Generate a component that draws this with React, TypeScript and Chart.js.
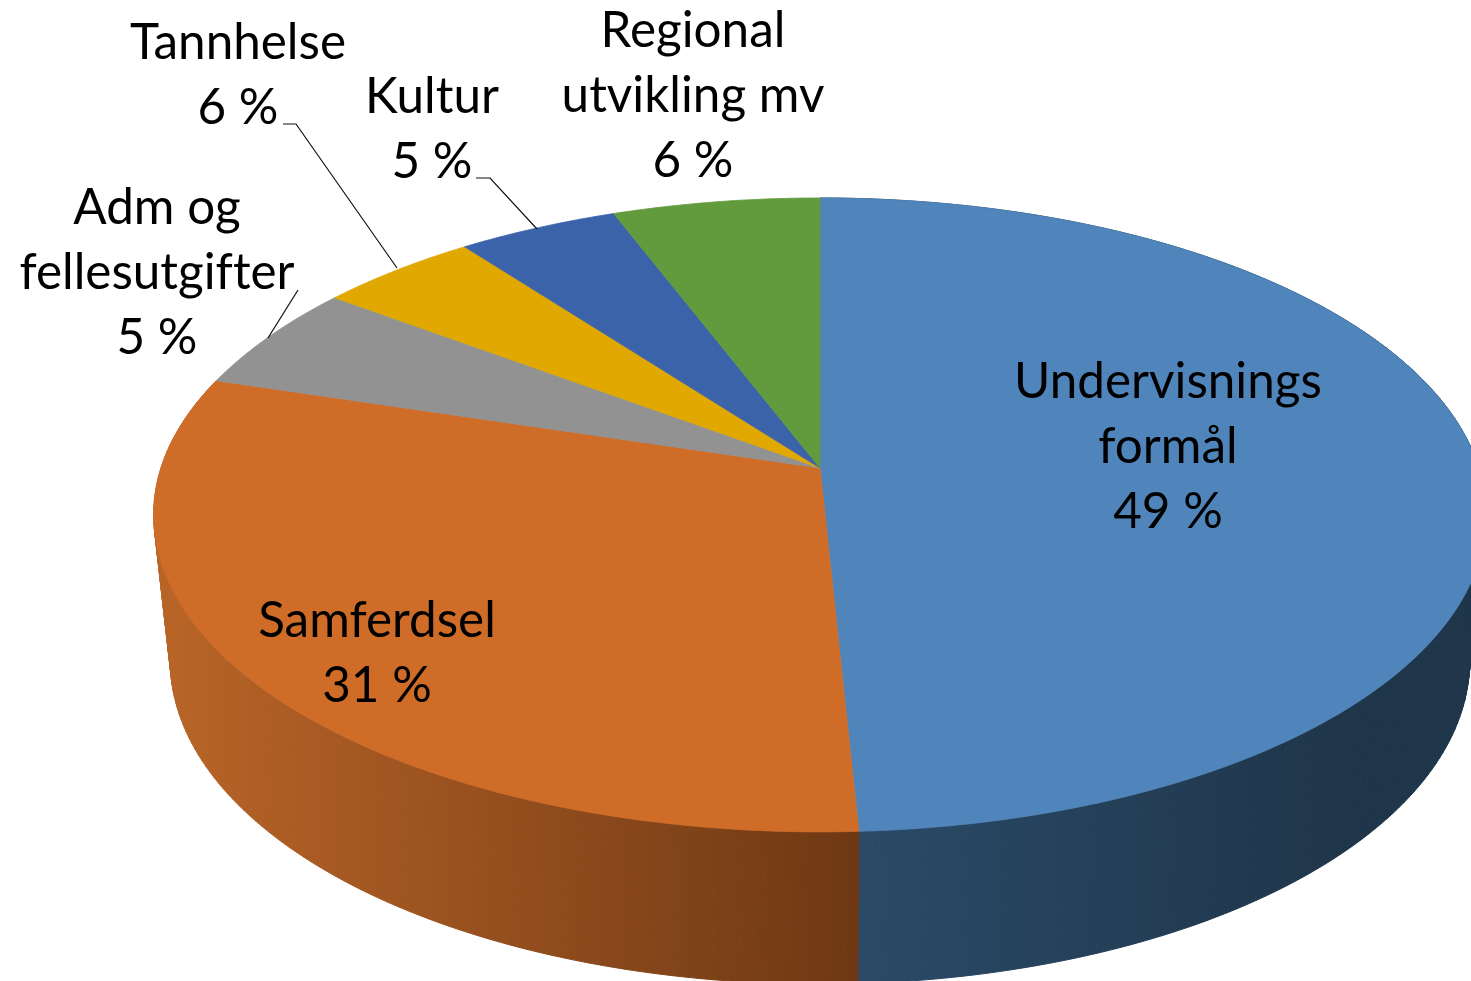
import React, { useEffect, useRef } from "react";
import { Chart, registerables } from "chart.js";

Chart.register(...registerables);

const categories = ["Undervisnings\nformål", "Samferdsel", "Adm og\nfellesutgifter", "Tannhelse", "Kultur", "Regional\nutvikling mv"];
const sliceValues = [49.2, 30.55, 5.45, 4.5, 4.5, 5.8];
const percentLabels = ["49 %", "31 %", "5 %", "6 %", "5 %", "6 %"];
const topColors = ["#5085BB", "#CF6C28", "#929292", "#E0A800", "#3B63AA", "#629A3E"];
const labelCentres = [[1168, 382], [377, 621], [157, 208], [238, 43], [432, 97], [693, 31]];
const leaderLines = [
  [[298, 290], [268, 338]],
  [[283, 124], [296, 124], [397, 268]],
  [[476, 178], [490, 178], [537, 229]],
];

const FONT = '49.4px Lato, "Open Sans", sans-serif';
const LINE = 65;
const apexX = 820, apexY = 468, A = 659, B = 310, K = -0.148;
const bottomScaleX = 0.975, bottomScaleY = 1.02, bottomApexY = 613;

function rim(theta: number) {
  const u = Math.sin(theta), v = -Math.cos(theta), w = 1 + K * v;
  return [A * u / w, B * v / w];
}
const topPt = (t: number) => { const p = rim(t); return [apexX + p[0], apexY + p[1]]; };
const botPt = (t: number) => { const p = rim(t); return [apexX + bottomScaleX * p[0], bottomApexY + bottomScaleY * p[1]]; };

const pie3d = {
  id: "pie3d",
  beforeDatasetDraw(chart: any) {
    const ctx = chart.ctx as CanvasRenderingContext2D;
    const arcs = chart.getDatasetMeta(0).data as any[];
    const colors = chart.data.datasets[0].backgroundColor as string[];
    const sideGrad = (x0: number, x1: number, c0: string, c1: string) => {
      const g = ctx.createLinearGradient(x0, 0, x1, 0);
      g.addColorStop(0, c0); g.addColorStop(1, c1);
      return g;
    };
    const sides = [
      { i: 0, fill: sideGrad(860, 1350, "#2A4A68", "#1F3549") },
      { i: 1, fill: sideGrad(170, 859, "#B86427", "#6E3814") },
    ];
    ctx.save();
    for (const s of sides) {
      const a0 = arcs[s.i].startAngle + Math.PI / 2, a1 = arcs[s.i].endAngle + Math.PI / 2;
      ctx.fillStyle = s.fill; ctx.strokeStyle = s.fill; ctx.lineWidth = 1;
      const n = Math.ceil((a1 - a0) / (Math.PI / 180));
      for (let k = 0; k < n; k++) {
        const t0 = a0 + (a1 - a0) * k / n, t1 = a0 + (a1 - a0) * (k + 1) / n;
        const pts = [topPt(t0), topPt(t1), botPt(t1), botPt(t0)];
        ctx.beginPath();
        pts.forEach((p, j) => (j ? ctx.lineTo(p[0], p[1]) : ctx.moveTo(p[0], p[1])));
        ctx.closePath(); ctx.fill(); ctx.stroke();
      }
    }
    arcs.forEach((arc, i) => {
      const a0 = arc.startAngle + Math.PI / 2, a1 = arc.endAngle + Math.PI / 2;
      const n = Math.ceil((a1 - a0) / (Math.PI / 360));
      ctx.beginPath();
      ctx.moveTo(apexX, apexY);
      for (let k = 0; k <= n; k++) {
        const p = topPt(a0 + (a1 - a0) * k / n);
        ctx.lineTo(p[0], p[1]);
      }
      ctx.closePath();
      ctx.fillStyle = colors[i];
      ctx.strokeStyle = colors[i];
      ctx.lineWidth = 0.8;
      ctx.lineJoin = "round";
      ctx.fill();
      ctx.stroke();
    });
    ctx.restore();
    return false;
  },
  afterDatasetsDraw(chart: any) {
    const ctx = chart.ctx as CanvasRenderingContext2D;
    ctx.save();
    ctx.strokeStyle = "#111"; ctx.lineWidth = 1.2;
    for (const l of leaderLines) {
      ctx.beginPath();
      l.forEach((p, j) => (j ? ctx.lineTo(p[0], p[1]) : ctx.moveTo(p[0], p[1])));
      ctx.stroke();
    }
    ctx.fillStyle = "#000"; ctx.font = FONT; ctx.textAlign = "center"; ctx.textBaseline = "middle";
    (ctx as any).letterSpacing = "0.01px";
    categories.forEach((c, i) => {
      const lines = [...c.split("\n"), percentLabels[i]];
      lines.forEach((t, j) => ctx.fillText(t, labelCentres[i][0], labelCentres[i][1] + j * LINE));
    });
    ctx.restore();
  },
};

export default function App() {
  const ref = useRef<HTMLCanvasElement>(null);
  useEffect(() => {
    document.body.style.margin = "0";
    document.body.style.background = "#fff";
    const chart = new Chart(ref.current!, {
      type: "pie",
      data: {
        labels: categories.map((c) => c.replace("\n", " ")),
        datasets: [{ data: sliceValues, backgroundColor: topColors, borderWidth: 0 }],
      },
      options: {
        responsive: false,
        animation: false,
        plugins: { legend: { display: false }, tooltip: { enabled: false } },
      },
      plugins: [pie3d],
    } as any);
    return () => chart.destroy();
  }, []);
  return <canvas ref={ref} width={1471} height={981} style={{ display: "block" }} />;
}
